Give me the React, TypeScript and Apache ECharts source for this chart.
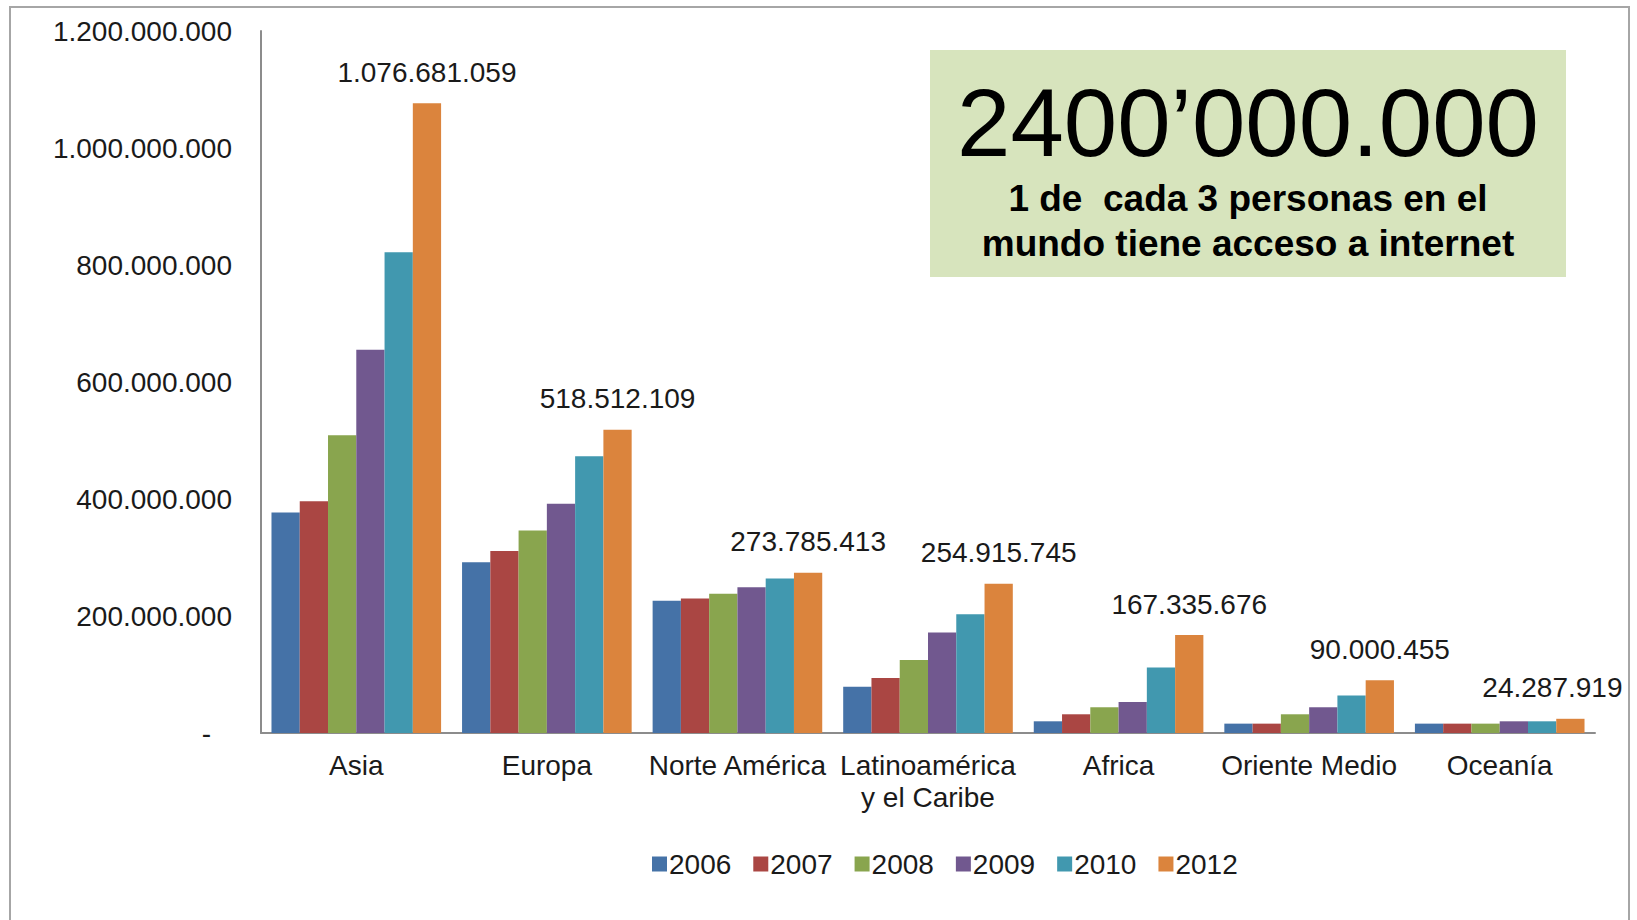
import React, { useEffect, useRef } from "react";
import * as echarts from "echarts";

const categories = [
  "Asia",
  "Europa",
  "Norte América",
  "Latinoamérica\ny el Caribe",
  "Africa",
  "Oriente Medio",
  "Oceanía",
];

const years = ["2006", "2007", "2008", "2009", "2010", "2012"];

const v2006 = [377e6, 292e6, 226e6, 79e6, 20e6, 16e6, 16e6];
const v2007 = [396e6, 311e6, 230e6, 94e6, 32e6, 16e6, 16e6];
const v2008 = [509e6, 346e6, 238e6, 125e6, 44e6, 32e6, 16e6];
const v2009 = [655e6, 392e6, 249e6, 172e6, 53e6, 44e6, 20e6];
const v2010 = [822e6, 473e6, 264e6, 203e6, 112e6, 64e6, 20e6];
const v2012 = [1076681059, 518512109, 273785413, 254915745, 167335676, 90000455, 24287919];

const seriesValues = [v2006, v2007, v2008, v2009, v2010, v2012];

const colors = ["#4572A7", "#AA4643", "#89A54E", "#71588F", "#4198AF", "#DB843D"];

const yTicks = { min: 0, max: 1200000000, interval: 200000000 };

const headline = "2400’000.000";
const subline1 = "1 de  cada 3 personas en el";
const subline2 = "mundo tiene acceso a internet";

const FONT = "'Liberation Sans', Arial, sans-serif";

function fmt(n: number): string {
  return Math.round(n)
    .toString()
    .replace(/\B(?=(\d{3})+(?!\d))/g, ".");
}

export default function App() {
  const ref = useRef<HTMLDivElement>(null);

  useEffect(() => {
    document.body.style.margin = "0";
    if (!ref.current) return;
    const chart = echarts.init(ref.current, undefined, { renderer: "svg" });

    const series = years.map((y, i) => {
      const isLast = i === years.length - 1;
      return {
        name: y,
        type: "bar",
        barGap: "0%",
        barCategoryGap: "11%",
        itemStyle: { color: colors[i] },
        data: seriesValues[i].map((v, j) =>
          isLast && j === seriesValues[i].length - 1
            ? { value: v, label: { offset: [-18, 0] } }
            : v
        ),
        label: isLast
          ? {
              show: true,
              position: "top",
              distance: 17,
              fontFamily: FONT,
              fontSize: 28,
              color: "#1a1a1a",
              formatter: (p: any) => fmt(p.value),
            }
          : { show: false },
      };
    });

    chart.setOption({
      animation: false,
      backgroundColor: "#ffffff",
      color: colors,
      textStyle: { fontFamily: FONT },
      grid: { left: 261, right: 42, top: 31, bottom: 187, containLabel: false },
      xAxis: {
        type: "category",
        data: categories,
        axisLine: { show: true, lineStyle: { color: "#8c8c8c", width: 2 } },
        axisTick: { show: false },
        axisLabel: {
          interval: 0,
          margin: 16,
          fontFamily: FONT,
          fontSize: 28,
          lineHeight: 32,
          color: "#1a1a1a",
        },
      },
      yAxis: {
        type: "value",
        min: yTicks.min,
        max: yTicks.max,
        interval: yTicks.interval,
        splitLine: { show: false },
        axisLine: { show: true, lineStyle: { color: "#8c8c8c", width: 2 } },
        axisTick: { show: false },
        axisLabel: {
          margin: 29,
          fontFamily: FONT,
          fontSize: 28,
          color: "#1a1a1a",
          formatter: (v: number) => (v === 0 ? "{z|-}" : fmt(v)),
          rich: { z: { fontFamily: FONT, fontSize: 28, color: "#1a1a1a", padding: [0, 21, 0, 0] } },
        },
      },
      legend: {
        data: years,
        left: 647,
        top: 845,
        icon: "rect",
        itemWidth: 15,
        itemHeight: 15,
        itemGap: 22,
        textStyle: { fontFamily: FONT, fontSize: 28, color: "#1a1a1a", padding: [0, 0, 0, -3] },
      },
      graphic: [
        {
          type: "rect",
          shape: { x: 10, y: 7, width: 1619, height: 940 },
          style: { fill: "none", stroke: "#a6a6a6", lineWidth: 2 },
          silent: true,
        },
        {
          type: "rect",
          shape: { x: 930, y: 50, width: 636, height: 227 },
          style: { fill: "#d7e4bd" },
          silent: true,
        },
        {
          type: "text",
          x: 1248,
          y: 122,
          style: {
            text: headline,
            fontFamily: FONT,
            fontSize: 96,
            fill: "#000000",
            align: "center",
            verticalAlign: "middle",
          },
        },
        {
          type: "text",
          x: 1248,
          y: 198,
          style: {
            text: subline1,
            fontFamily: FONT,
            fontSize: 37,
            fontWeight: "bold",
            fill: "#000000",
            align: "center",
            verticalAlign: "middle",
          },
        },
        {
          type: "text",
          x: 1248,
          y: 243,
          style: {
            text: subline2,
            fontFamily: FONT,
            fontSize: 37,
            fontWeight: "bold",
            fill: "#000000",
            align: "center",
            verticalAlign: "middle",
          },
        },
      ],
      series,
    });

    return () => chart.dispose();
  }, []);

  return <div ref={ref} style={{ width: 1637, height: 920 }} />;
}
